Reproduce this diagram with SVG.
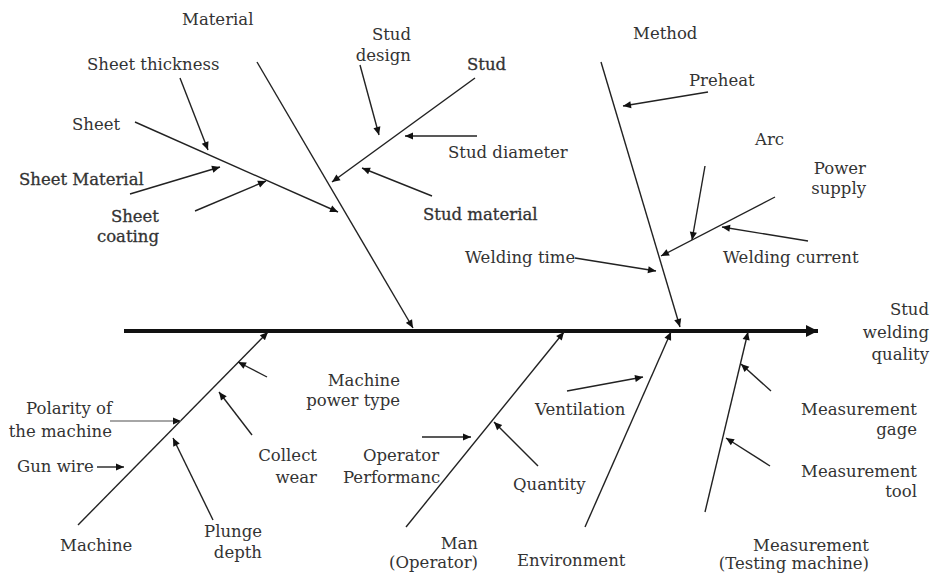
<svg xmlns="http://www.w3.org/2000/svg" width="932" height="580" viewBox="0 0 932 580">
<defs>
<style>
.lbl{font-family:"DejaVu Serif","Liberation Serif",serif;font-size:16.5px;fill:#333}
.b{stroke:#333;stroke-width:0.3}
.e{text-anchor:end}
.ln{stroke:#222;stroke-width:1.4;fill:none;marker-end:url(#ah)}
.spine{stroke:#111;stroke-width:4;fill:none;marker-end:url(#big)}
</style>
<marker id="ah" viewBox="0 0 10 10" refX="10" refY="5" markerWidth="9" markerHeight="8" markerUnits="userSpaceOnUse" orient="auto"><path d="M0,0.5 L10,5 L0,9.5 z" fill="#111"/></marker>
<marker id="big" viewBox="0 0 10 10" refX="10" refY="5" markerWidth="14" markerHeight="12" markerUnits="userSpaceOnUse" orient="auto"><path d="M0,0 L10,5 L0,10 z" fill="#111"/></marker>
</defs>
<rect width="932" height="580" fill="#fff"/>
<g id="connectors">
<line class="spine" x1="124" y1="331" x2="818" y2="331"/>
<line class="ln" x1="257" y1="62" x2="413" y2="328"/>
<line class="ln" x1="135" y1="122" x2="338" y2="212"/>
<line class="ln" x1="180" y1="78" x2="208" y2="150"/>
<line class="ln" x1="130" y1="194" x2="220" y2="167"/>
<line class="ln" x1="195" y1="211" x2="266" y2="181"/>
<line class="ln" x1="475" y1="78" x2="332" y2="182"/>
<line class="ln" x1="360" y1="65" x2="379" y2="135"/>
<line class="ln" x1="477" y1="136" x2="405" y2="136"/>
<line class="ln" x1="432" y1="196" x2="362" y2="168"/>
<line class="ln" x1="601" y1="62" x2="680" y2="327"/>
<line class="ln" x1="708" y1="92" x2="623" y2="106"/>
<line class="ln" x1="705" y1="166" x2="692" y2="240"/>
<line class="ln" x1="775" y1="197" x2="661" y2="256"/>
<line class="ln" x1="808" y1="241" x2="722" y2="227"/>
<line class="ln" x1="575" y1="258" x2="656" y2="271"/>
<line class="ln" x1="78" y1="525" x2="268" y2="332"/>
<line class="ln" x1="267" y1="377" x2="238" y2="362"/>
<line class="ln" x1="110" y1="421" x2="181" y2="421" style="stroke:#888"/>
<line class="ln" x1="97" y1="467" x2="124" y2="467"/>
<line class="ln" x1="252" y1="435" x2="219" y2="392"/>
<line class="ln" x1="213" y1="520" x2="173" y2="438"/>
<line class="ln" x1="406" y1="527" x2="564" y2="332"/>
<line class="ln" x1="422" y1="437" x2="471" y2="437"/>
<line class="ln" x1="538" y1="466" x2="494" y2="422"/>
<line class="ln" x1="585" y1="527" x2="671" y2="332"/>
<line class="ln" x1="567" y1="391" x2="643" y2="377"/>
<line class="ln" x1="705" y1="512" x2="748" y2="332"/>
<line class="ln" x1="771" y1="391" x2="741" y2="364"/>
<line class="ln" x1="770" y1="466" x2="726" y2="438"/>
</g>
<g id="effect"><text class="lbl e" x="929" y="315">Stud</text><text class="lbl e" x="929" y="338">welding</text><text class="lbl e" x="929" y="360">quality</text></g>
<g id="material"><text class="lbl" x="182" y="25">Material</text></g>
<g id="stud-design"><text class="lbl e" x="411" y="40">Stud</text><text class="lbl e" x="411" y="61">design</text></g>
<g id="sheet-thickness"><text class="lbl" x="87" y="70">Sheet thickness</text></g>
<g id="sheet"><text class="lbl" x="72" y="130">Sheet</text></g>
<g id="sheet-material"><text class="lbl b" x="19" y="185">Sheet Material</text></g>
<g id="sheet-coating"><text class="lbl e b" x="159" y="222">Sheet</text><text class="lbl e b" x="159" y="242">coating</text></g>
<g id="stud"><text class="lbl b" x="467" y="70">Stud</text></g>
<g id="stud-diameter"><text class="lbl" x="448" y="158">Stud diameter</text></g>
<g id="stud-material"><text class="lbl b" x="423" y="220">Stud material</text></g>
<g id="method"><text class="lbl" x="633" y="39">Method</text></g>
<g id="preheat"><text class="lbl" x="689" y="86">Preheat</text></g>
<g id="arc"><text class="lbl" x="755" y="145">Arc</text></g>
<g id="power-supply"><text class="lbl e" x="866" y="174">Power</text><text class="lbl e" x="866" y="194">supply</text></g>
<g id="welding-current"><text class="lbl" x="723" y="263">Welding current</text></g>
<g id="welding-time"><text class="lbl" x="465" y="263">Welding time</text></g>
<g id="machine-power-type"><text class="lbl e" x="400" y="386">Machine</text><text class="lbl e" x="400" y="406">power type</text></g>
<g id="polarity"><text class="lbl e" x="112" y="414">Polarity of</text><text class="lbl e" x="112" y="437">the machine</text></g>
<g id="gun-wire"><text class="lbl" x="17" y="472">Gun wire</text></g>
<g id="collect-wear"><text class="lbl e" x="317" y="461">Collect</text><text class="lbl e" x="317" y="483">wear</text></g>
<g id="plunge-depth"><text class="lbl e" x="262" y="537">Plunge</text><text class="lbl e" x="262" y="558">depth</text></g>
<g id="machine"><text class="lbl" x="60" y="551">Machine</text></g>
<g id="operator-performance"><text class="lbl" x="363" y="461">Operator</text><text class="lbl" x="343" y="483">Performanc</text></g>
<g id="man"><text class="lbl e" x="478" y="549">Man</text><text class="lbl e" x="478" y="568">(Operator)</text></g>
<g id="quantity"><text class="lbl" x="513" y="490">Quantity</text></g>
<g id="ventilation"><text class="lbl" x="535" y="415">Ventilation</text></g>
<g id="environment"><text class="lbl" x="517" y="566">Environment</text></g>
<g id="measurement-gage"><text class="lbl e" x="917" y="415">Measurement</text><text class="lbl e" x="917" y="435">gage</text></g>
<g id="measurement-tool"><text class="lbl e" x="917" y="477">Measurement</text><text class="lbl e" x="917" y="497">tool</text></g>
<g id="measurement"><text class="lbl e" x="869" y="551">Measurement</text><text class="lbl e" x="869" y="569">(Testing machine)</text></g>
</svg>
